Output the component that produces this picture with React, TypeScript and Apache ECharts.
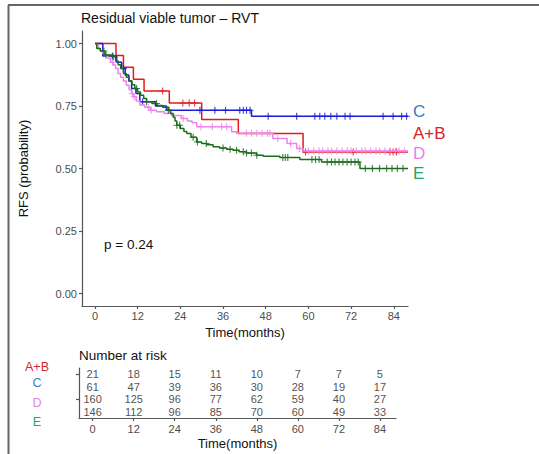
import React, { useEffect, useRef } from "react";
import * as echarts from "echarts";

const FONT = '"Liberation Sans", Arial, sans-serif';

const groups = ["A+B", "C", "D", "E"];
const lineColors = ["#e31a1c", "#1c1cd8", "#ee82ee", "#1a6e1a"];
const labelColors = ["#d4252b", "#3a7dc2", "#e681e6", "#22a36b"];

// Kaplan-Meier step points [time (months), survival]
const stepsAB = [[0, 1], [5.9, 0.952], [8, 0.905], [10.8, 0.857], [13.8, 0.81], [20.9, 0.762], [30, 0.696], [40.3, 0.64], [58.5, 0.566], [88, 0.566]];
const stepsC = [[0, 1], [2.2, 0.95], [6.1, 0.925], [7.5, 0.9], [8.5, 0.874], [9.5, 0.85], [10.3, 0.82], [11.5, 0.8], [12.6, 0.767], [17, 0.75], [20.1, 0.733], [44, 0.709], [88, 0.709]];
const stepsD = [[0, 1], [0.5, 0.994], [0.9, 0.98], [1.5, 0.97], [2.2, 0.96], [3, 0.95], [3.7, 0.94], [4.4, 0.925], [5.1, 0.914], [5.8, 0.9], [6.5, 0.88], [7.2, 0.865], [8, 0.85], [8.8, 0.833], [9.6, 0.815], [10.3, 0.8], [10.8, 0.787], [11.6, 0.77], [12.6, 0.754], [14, 0.745], [15.5, 0.733], [17.3, 0.727], [19.5, 0.72], [21.5, 0.712], [24.3, 0.7], [26, 0.69], [27.3, 0.683], [28.6, 0.667], [38.4, 0.647], [39.8, 0.641], [50, 0.62], [54, 0.6], [56.7, 0.58], [58.5, 0.57], [88, 0.57]];
const stepsE = [[0, 1], [0.5, 0.98], [1.5, 0.97], [2.8, 0.954], [5.1, 0.947], [5.8, 0.93], [6.5, 0.915], [7.2, 0.9], [8, 0.88], [8.8, 0.865], [9.6, 0.85], [10.4, 0.835], [11.2, 0.82], [12, 0.806], [12.8, 0.793], [13.7, 0.78], [14.5, 0.767], [16, 0.76], [17.5, 0.752], [19, 0.745], [20.6, 0.733], [21.3, 0.72], [22, 0.705], [22.5, 0.69], [23, 0.673], [24, 0.66], [25, 0.648], [25.8, 0.64], [27, 0.625], [28.6, 0.606], [30, 0.6], [31.5, 0.595], [33.2, 0.587], [35, 0.582], [37, 0.577], [38.8, 0.573], [40.5, 0.567], [42.6, 0.562], [45.4, 0.553], [47.3, 0.549], [52, 0.544], [57.6, 0.536], [63.7, 0.526], [74.5, 0.5], [88, 0.5]];

// censoring times (months)
const censorAB = [19, 24.7, 26.5, 28, 59.2, 72.6, 82.9, 83.8, 84.8];
const censorC = [4.9, 8, 13.4, 20.8, 29.5, 33.7, 36.7, 40.7, 41.7, 42.6, 43.6, 48.7, 56.7, 61.8, 63.2, 64.6, 66.3, 68, 70.3, 71.7, 81, 83.8, 86.2, 87.6];
const censorD = [5, 10.5, 11, 15, 15.8, 24.8, 29.8, 33, 35.6, 37, 42.6, 44, 45.5, 47, 48.5, 49.2, 51.4, 55, 57.5, 60, 61.5, 63, 64, 65.5, 66.5, 68, 69.5, 71, 72, 73.5, 75, 76, 77.5, 79, 80, 81.5, 83, 84.5, 85.5, 87];
const censorE = [2.5, 3.1, 5.1, 11.7, 14.5, 17.3, 20.6, 23, 23.8, 27.6, 28.8, 31.3, 36, 38, 39.8, 41.7, 42.6, 44, 45.5, 52.8, 53.5, 54.2, 61, 62, 63, 65.3, 66.5, 67.5, 68.6, 69.7, 70.9, 72, 73.1, 74, 76, 78, 80, 82, 83.5, 85, 86.6];

// number at risk table
const riskTimes = [0, 12, 24, 36, 48, 60, 72, 84];
const riskAB = [21, 18, 15, 11, 10, 7, 7, 5];
const riskC = [61, 47, 39, 36, 30, 28, 19, 17];
const riskD = [160, 125, 96, 77, 62, 59, 40, 27];
const riskE = [146, 112, 96, 85, 70, 60, 49, 33];

const xTicks = [0, 12, 24, 36, 48, 60, 72, 84];
const yTicks = [0, 0.25, 0.5, 0.75, 1];
const pValueText = "p = 0.24";

const allSteps = [stepsAB, stepsC, stepsD, stepsE];
const allCensor = [censorAB, censorC, censorD, censorE];
const allRisk = [riskAB, riskC, riskD, riskE];

function survAt(steps: number[][], t: number) {
  let s = steps[0][1];
  for (const p of steps) {
    if (p[0] <= t) s = p[1];
  }
  return s;
}

const PLUS = "path://M-1,-0.17H1V0.17H-1Z M-0.17,-1H0.17V1H-0.17Z";

export default function App() {
  const ref = useRef<HTMLDivElement>(null);
  useEffect(() => {
    if (!ref.current) return;
    const chart = echarts.init(ref.current, undefined, { renderer: "svg" });
    const axisLineStyle = { color: "#555", width: 1.2 };
    const tickLabel = { fontSize: 11, color: "#4d4d4d", fontFamily: FONT };
    const series: any[] = [];
    allSteps.forEach((steps, i) => {
      series.push({
        type: "line",
        step: "end",
        symbol: "none",
        xAxisIndex: 0,
        yAxisIndex: 0,
        data: steps,
        lineStyle: { color: lineColors[i], width: 1.5 },
        itemStyle: { color: lineColors[i] },
        z: 2 + i,
      });
      series.push({
        type: "scatter",
        xAxisIndex: 0,
        yAxisIndex: 0,
        symbol: PLUS,
        symbolSize: 7,
        data: allCensor[i].map((t) => [t, survAt(steps, t)]),
        itemStyle: { color: lineColors[i] },
        z: 2 + i,
      });
    });
    const riskData: any[] = [];
    allRisk.forEach((row, g) => {
      row.forEach((n, k) => riskData.push([riskTimes[k], groups[g], n]));
    });
    series.push({
      type: "scatter",
      xAxisIndex: 1,
      yAxisIndex: 1,
      symbolSize: 1,
      itemStyle: { color: "transparent" },
      data: riskData,
      label: {
        show: true,
        position: "inside",
        formatter: (p: any) => String(p.value[2]),
        fontSize: 11,
        color: "#222",
        fontFamily: FONT,
      },
    });

    const rightLabelY = [133.5, 111.7, 153.5, 173];
    const leftLabelY = [366.7, 383, 403, 422];
    const graphics: any[] = [
      { type: "line", shape: { x1: 8.5, y1: 5, x2: 8.5, y2: 454 }, style: { stroke: "#666", lineWidth: 2 } },
      { type: "line", shape: { x1: 8, y1: 5, x2: 539, y2: 5 }, style: { stroke: "#666", lineWidth: 2 } },
      { type: "text", x: 104, y: 244, style: { text: pValueText, fontSize: 13.5, fontFamily: FONT, fill: "#111", align: "left", verticalAlign: "middle" } },
    ];
    groups.forEach((g, i) => {
      graphics.push({ type: "text", x: 413, y: rightLabelY[i], style: { text: g, fontSize: 17, fontFamily: FONT, fill: labelColors[i], align: "left", verticalAlign: "middle" } });
      graphics.push({ type: "text", x: 37, y: leftLabelY[i], style: { text: g, fontSize: 12.5, fontFamily: FONT, fill: labelColors[i], align: "center", verticalAlign: "middle" } });
    });

    chart.setOption({
      animation: false,
      title: [
        { text: "Residual viable tumor – RVT", left: 81, top: 11, padding: 0, textStyle: { fontSize: 14, fontWeight: "normal", color: "#111", fontFamily: FONT } },
        { text: "Number at risk", left: 79, top: 348, padding: 0, textStyle: { fontSize: 13.5, fontWeight: "normal", color: "#111", fontFamily: FONT } },
      ],
      grid: [
        { left: 82, top: 31, width: 326, height: 275, outerBoundsMode: "none", containLabel: false },
        { left: 79, top: 368, width: 317, height: 50, outerBoundsMode: "none", containLabel: false },
      ],
      xAxis: [
        {
          type: "value", gridIndex: 0, min: -3.65, max: 88.0,
          axisLine: { show: true, onZero: false, lineStyle: axisLineStyle },
          axisTick: { show: true, length: 3, customValues: xTicks, lineStyle: axisLineStyle },
          axisLabel: { ...tickLabel, customValues: xTicks, margin: 4 },
          splitLine: { show: false },
          name: "Time(months)", nameLocation: "middle", nameGap: 19,
          nameTextStyle: { fontSize: 13, color: "#111", fontFamily: FONT },
        },
        {
          type: "value", gridIndex: 1, min: -4, max: 88.7,
          axisLine: { show: true, onZero: false, lineStyle: axisLineStyle },
          axisTick: { show: true, length: 3, customValues: xTicks, lineStyle: axisLineStyle },
          axisLabel: { ...tickLabel, customValues: xTicks, margin: 5 },
          splitLine: { show: false },
          name: "Time(months)", nameLocation: "middle", nameGap: 19,
          nameTextStyle: { fontSize: 13, color: "#111", fontFamily: FONT },
        },
      ],
      yAxis: [
        {
          type: "value", gridIndex: 0, min: -0.05, max: 1.05,
          axisLine: { show: true, onZero: false, lineStyle: axisLineStyle },
          axisTick: { show: true, length: 3, customValues: yTicks, lineStyle: axisLineStyle },
          axisLabel: { ...tickLabel, customValues: yTicks, margin: 5, formatter: (v: number) => v.toFixed(2) },
          splitLine: { show: false },
          name: "RFS (probability)", nameLocation: "middle", nameGap: 52,
          nameTextStyle: { fontSize: 13, color: "#111", fontFamily: FONT },
        },
        {
          type: "category", gridIndex: 1, data: groups, inverse: true,
          axisLine: { show: true, onZero: false, lineStyle: axisLineStyle },
          axisTick: { show: true, length: 3, alignWithLabel: true, lineStyle: axisLineStyle },
          axisLabel: { show: false },
          splitLine: { show: false },
        },
      ],
      series,
      graphic: graphics,
    });
    return () => chart.dispose();
  }, []);
  return <div ref={ref} style={{ position: "absolute", left: 0, top: 0, width: 539, height: 454, background: "#fff" }} />;
}
